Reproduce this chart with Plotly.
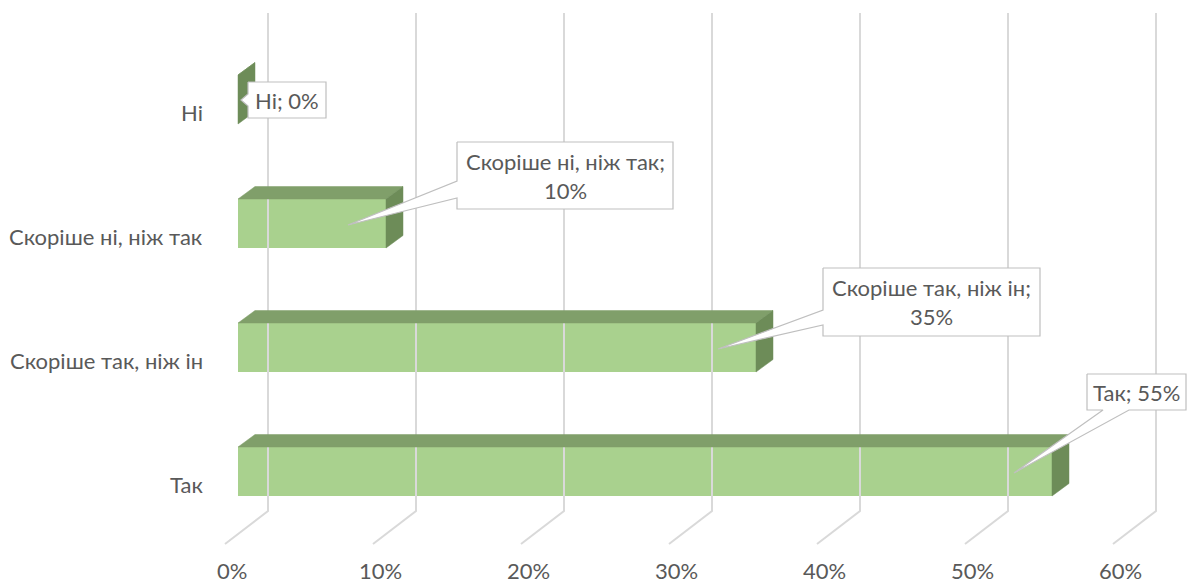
import plotly.graph_objects as go

# ---------------- data ----------------
categories = ["Так", "Скоріше так, ніж ін", "Скоріше ні, ніж так", "Ні"]
values = [55, 35, 10, 0]
label_texts = ["Так; 55%", "Скоріше так, ніж ін;<br>35%", "Скоріше ні, ніж так;<br>10%", "Ні; 0%"]
tick_values = [0, 10, 20, 30, 40, 50, 60]
tick_labels = ["0%", "10%", "20%", "30%", "40%", "50%", "60%"]

# ---------------- geometry (pixels) ----------------
W, H = 1187, 585
X0, PXU = 238.0, 14.8      # pixel of 0% on bar front plane, px per 1%
Y0, PYU = 471.5, 124.0     # pixel of first category centre, px per category
BAR_H = 49                 # bar thickness in px
BD_X, BD_Y = 17, 12.5      # bar depth offset
WALL_X = 30                # back wall offset from bar front plane
FLOOR_X = -13              # floor front offset from bar front plane
GRID_TOP, GRID_BOT, FLOOR_Y = 13, 511, 544

FRONT, TOP, SIDE = "#A9D18E", "#809F6A", "#6D8C58"
GRID = "#D9D9D9"
TXT = "#595959"
FONT = "Lato"


def px2x(p):
    return (p - X0) / PXU


def py2y(p):
    return (Y0 - p) / PYU


def dx(p):
    return p / PXU


def dy(p):
    return -p / PYU   # pixel offsets downward -> negative y


fig = go.Figure()

# gridlines (back wall + floor diagonal)
for t in tick_values:
    xs = [t + dx(WALL_X), t + dx(WALL_X), t + dx(FLOOR_X)]
    ys = [py2y(GRID_TOP), py2y(GRID_BOT), py2y(FLOOR_Y)]
    fig.add_trace(go.Scatter(x=xs, y=ys, mode="lines",
                             line=dict(color=GRID, width=2),
                             hoverinfo="skip", showlegend=False))

# bars
hh = BAR_H / PYU / 2
for i, v in enumerate(values):
    # top face
    fig.add_trace(go.Scatter(
        x=[0, v, v + dx(BD_X), dx(BD_X), 0],
        y=[i + hh, i + hh, i + hh - dy(BD_Y), i + hh - dy(BD_Y), i + hh],
        mode="lines", fill="toself", fillcolor=TOP, line=dict(color=TOP, width=0.5),
        hoverinfo="skip", showlegend=False))
    # side face
    fig.add_trace(go.Scatter(
        x=[v, v, v + dx(BD_X), v + dx(BD_X), v],
        y=[i - hh, i + hh, i + hh - dy(BD_Y), i - hh - dy(BD_Y), i - hh],
        mode="lines", fill="toself", fillcolor=SIDE, line=dict(color=SIDE, width=0.5),
        hoverinfo="skip", showlegend=False))

fig.add_trace(go.Bar(x=values, y=list(range(len(values))), orientation="h",
                     width=BAR_H / PYU, base=0, marker=dict(color=FRONT, line=dict(width=0)),
                     hoverinfo="skip", showlegend=False))

# callouts: tip offset from bar end (px) and box relative to tip (L, T, R, B) with wedge
tip_dx = [-38, -38, -38, 3]
tip_dy = [1.5, 1.5, 1.5, 0.5]
boxes = [(73, -99, 172, -63), (105, -81, 322, -13), (109, -83, 325, -16), (7, -18, 85, 18)]
wedges = [("bottom", 89, 115), ("left", -39, -24), ("left", -44, -27), ("left", -6, 6)]

for i, v in enumerate(values):
    tx = v + dx(tip_dx[i])
    ty = i + dy(tip_dy[i])
    L, T, R, B = boxes[i]
    side, a, b = wedges[i]
    if side == "bottom":
        pts = [(L, T), (R, T), (R, B), (b, B), (0, 0), (a, B), (L, B), (L, T)]
    else:
        pts = [(L, T), (R, T), (R, B), (L, B), (L, b), (0, 0), (L, a), (L, T)]
    fig.add_trace(go.Scatter(
        x=[tx + dx(p[0]) for p in pts], y=[ty + dy(p[1]) for p in pts],
        mode="lines", fill="toself", fillcolor="white",
        line=dict(color="#BFBFBF", width=1.2),
        hoverinfo="skip", showlegend=False))
    fig.add_annotation(x=tx + dx((L + R) / 2), y=ty + dy((T + B) / 2),
                       text=label_texts[i], showarrow=False,
                       xanchor="center", yanchor="middle", align="center",
                       font=dict(family=FONT, size=22, color=TXT))

# category labels
for i, c in enumerate(categories):
    fig.add_annotation(x=px2x(205), y=i + dy(13), text=c, showarrow=False,
                       xanchor="right", yanchor="middle",
                       font=dict(family=FONT, size=22, color=TXT))

# tick labels
for t, lab in zip(tick_values, tick_labels):
    fig.add_annotation(x=t + dx(-6), y=py2y(570), text=lab, showarrow=False,
                       xanchor="center", yanchor="middle",
                       font=dict(family=FONT, size=22, color=TXT))

fig.update_layout(
    width=W, height=H,
    margin=dict(l=0, r=0, t=0, b=0),
    paper_bgcolor="white", plot_bgcolor="white",
    xaxis=dict(range=[px2x(0), px2x(W)], visible=False, fixedrange=True),
    yaxis=dict(range=[py2y(H), py2y(0)], visible=False, fixedrange=True),
    bargap=0,
)

fig.write_html("out.html", config={"displayModeBar": False},
               post_script="document.body.style.margin='0';document.body.style.overflow='hidden';")
